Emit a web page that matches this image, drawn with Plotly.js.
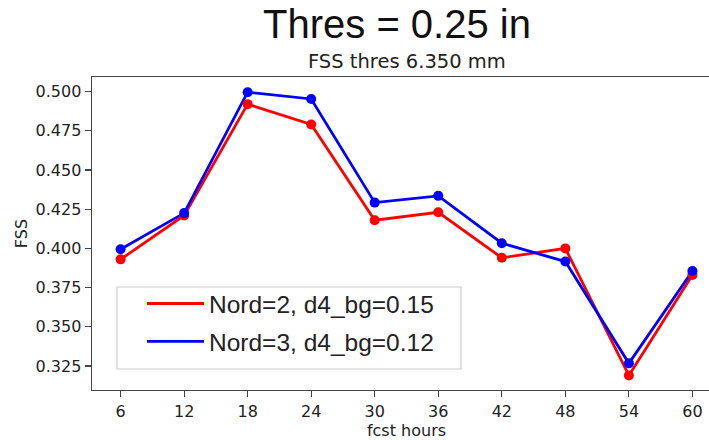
<!DOCTYPE html>
<html>
<head>
<meta charset="utf-8">
<script src="https://cdn.plot.ly/plotly-3.0.1.min.js"></script>
<style>
html, body { margin: 0; padding: 0; background: #fff; overflow: hidden; width: 709px; height: 440px; }
#chart { width: 721px; height: 440px; }
</style>
</head>
<body>
<div id="chart"></div>
<script>
const fcstHours = [6, 12, 18, 24, 30, 36, 42, 48, 54, 60];
const fssNord2 = [0.393, 0.421, 0.492, 0.479, 0.418, 0.423, 0.394, 0.400, 0.319, 0.383];
const fssNord3 = [0.3995, 0.4225, 0.4996, 0.4953, 0.4292, 0.4335, 0.4033, 0.3916, 0.3267, 0.3856];
const seriesNames = ['Nord=2, d4_bg=0.15', 'Nord=3, d4_bg=0.12'];
const yTicks = [0.325, 0.350, 0.375, 0.400, 0.425, 0.450, 0.475, 0.500];
const mainTitle = 'Thres = 0.25 in';
const subTitle = 'FSS thres 6.350 mm';
const xLabel = 'fcst hours';
const yLabel = 'FSS';

const colors = ['#ff0000', '#0000ff'];
const series = [fssNord2, fssNord3];
const traces = [];
series.forEach((ys, i) => {
  traces.push({
    x: fcstHours, y: ys, type: 'scatter', mode: 'lines',
    name: seriesNames[i], legendgroup: 'g' + i,
    line: { color: colors[i], width: 2.8 }
  });
});
series.forEach((ys, i) => {
  traces.push({
    x: fcstHours, y: ys, type: 'scatter', mode: 'markers',
    showlegend: false, legendgroup: 'g' + i,
    marker: { color: colors[i], size: 10 }
  });
});

const tickFont = { family: 'DejaVu Sans', size: 16, color: '#222' };
const layout = {
  width: 721, height: 440,
  margin: { l: 92, r: 0, t: 77, b: 50 },
  paper_bgcolor: '#fff', plot_bgcolor: '#fff',
  showlegend: true,
  title: {
    text: mainTitle, x: 397 / 721, xref: 'container', xanchor: 'center',
    y: 1 - 24 / 440, yref: 'container', yanchor: 'middle',
    font: { family: 'Liberation Sans, Arial', size: 40, color: '#111' }
  },
  xaxis: {
    range: [3.3, 62.7], tickvals: fcstHours, ticktext: fcstHours.map(String),
    showgrid: false, zeroline: false,
    showline: true, mirror: true, linecolor: '#444', linewidth: 1.4,
    ticks: 'outside', ticklen: 6, tickwidth: 1.2, tickcolor: '#444',
    tickfont: tickFont,
    title: { text: xLabel, font: tickFont, standoff: 5 }
  },
  yaxis: {
    range: [0.3097, 0.5093], tickvals: yTicks, tickformat: '.3f',
    showgrid: false, zeroline: false,
    showline: true, mirror: true, linecolor: '#444', linewidth: 1.4,
    ticks: 'outside', ticklen: 6, tickwidth: 1.2, tickcolor: '#444',
    tickfont: tickFont,
    title: { text: yLabel, font: tickFont, standoff: 4 }
  },
  legend: {
    x: 0.0795, xanchor: 'left', y: 0.348, yanchor: 'top',
    bgcolor: 'rgba(0,0,0,0)', borderwidth: 0,
    font: { family: 'Liberation Sans, Arial', size: 24.5, color: '#222' },
    traceorder: 'grouped', tracegroupgap: 3,
    itemwidth: 57
  },
  shapes: [{
    type: 'rect', xref: 'paper', yref: 'paper',
    x0: 0.0397, x1: 0.5866, y0: 0.0671, y1: 0.329,
    line: { color: '#cccccc', width: 1.2 }, fillcolor: '#fff', layer: 'below'
  }],
  annotations: [{
    text: subTitle, xref: 'paper', yref: 'paper', x: 0.5, y: 1,
    xanchor: 'center', yanchor: 'bottom', yshift: 2, showarrow: false,
    font: { family: 'DejaVu Sans', size: 19.5, color: '#222' }
  }]
};

Plotly.newPlot('chart', traces, layout, { displayModeBar: false, staticPlot: true });
</script>
</body>
</html>
